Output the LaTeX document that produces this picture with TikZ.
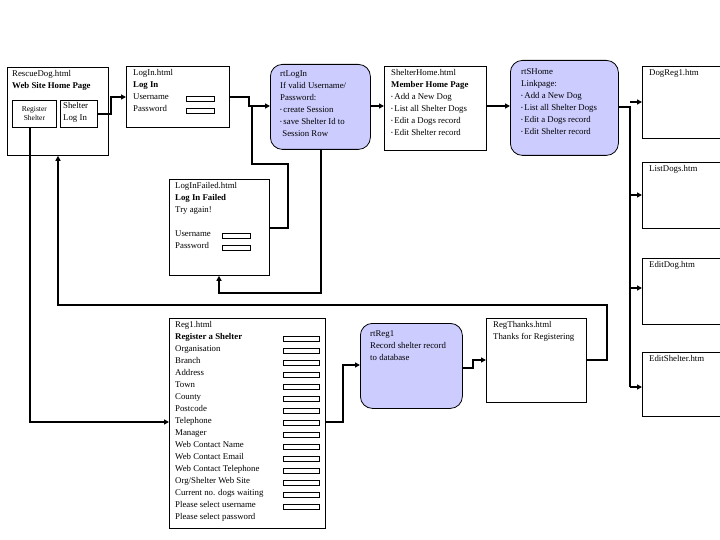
\documentclass[tikz,border=0pt]{standalone}
\usepackage{fontspec}
\setmainfont{Liberation Serif}
\usetikzlibrary{arrows.meta}
\definecolor{rtblue}{RGB}{204,204,255}
\newcommand\bul{{\fontsize{5}{5}\selectfont\raisebox{1pt}{\textbullet}}\,}
\begin{document}
\begin{tikzpicture}[x=1pt,y=-1pt,
  box/.style={draw,line width=0.8pt,anchor=north west,inner sep=0pt},
  rt/.style={box,fill=rtblue,rounded corners=12pt},
  txt/.style={anchor=north west,align=left,font=\fontsize{8.8}{12}\selectfont,inner sep=0pt},
  conn/.style={line width=1.8pt,-{Triangle[length=5pt,width=5pt]}},
  line/.style={line width=1.8pt}]
\useasboundingbox (0,0) rectangle (720,540);
\newcommand\fld[2]{\draw[line width=0.7pt] (#1,#2-2.5) rectangle ++(28,5);}
\newcommand\fldb[2]{\draw[line width=0.7pt] (#1,#2-2.5) rectangle ++(36,5);}
% RescueDog
\node[box,minimum width=101pt,minimum height=88pt] (rd) at (7,67) {};
\node[txt] (rdt) at (12,70) {RescueDog.html\\\textbf{Web Site Home Page}};
\node[box,minimum width=44pt,minimum height=27pt] (rs) at (12,100) {};
\node[txt,font=\fontsize{7.5}{12}\selectfont,align=center,anchor=center] (rst) at (rs.center) {Register\\[-3pt]Shelter};
\node[box,minimum width=37pt,minimum height=27pt] (sl) at (60,100) {};
\node[txt,align=left,anchor=north west] (slt) at (63,102) {Shelter\\Log In};
% LogIn
\node[box,minimum width=103pt,minimum height=61pt] (li) at (126,66) {};
\node[txt] (lit) at (133,69) {LogIn.html\\\textbf{Log In}\\Username\\Password};
\fld{186}{99}\fld{186}{111}
% rtLogIn
\node[rt,minimum width=100pt,minimum height=85pt] (rl) at (270,64) {};
\node[txt] (rlt) at (280,71) {rtLogIn\\If valid Username/\\Password:\\\bul create Session\\\bul save Shelter Id to\\\ Session Row};
% LogInFailed
\node[box,minimum width=100pt,minimum height=96pt] (lf) at (169,179) {};
\node[txt] (lft) at (175,182) {LogInFailed.html\\\textbf{Log In Failed}\\Try again!\\[12pt]Username\\Password};
\fld{222}{236}\fld{222}{248}
% ShelterHome
\node[box,minimum width=102pt,minimum height=84pt] (sh) at (384,66) {};
\node[txt] (sht) at (391,69) {ShelterHome.html\\\textbf{Member Home Page}\\\bul Add a New Dog\\\bul List all Shelter Dogs\\\bul Edit a Dogs record\\\bul Edit Shelter record};
% rtSHome
\node[rt,minimum width=108pt,minimum height=95pt] (rs2) at (510,60) {};
\node[txt] (rs2t) at (521,68) {rtSHome\\Linkpage:\\\bul Add a New Dog\\\bul List all Shelter Dogs\\\bul Edit a Dogs record\\\bul Edit Shelter record};
% right column
\node[box,minimum width=90pt,minimum height=72pt] (dr) at (642,66) {};
\node[txt] (drt) at (649,69) {DogReg1.htm};
\node[box,minimum width=90pt,minimum height=66pt] (ld) at (642,162) {};
\node[txt] (ldt) at (649,165) {ListDogs.htm};
\node[box,minimum width=90pt,minimum height=66pt] (ed) at (642,258) {};
\node[txt] (edt) at (649,261) {EditDog.htm};
\node[box,minimum width=90pt,minimum height=64pt] (es) at (642,352) {};
\node[txt] (est) at (649,355) {EditShelter.htm};
% Reg1
\node[box,minimum width=156pt,minimum height=210pt] (rg) at (169,318) {};
\node[txt] (rgt) at (175,321) {Reg1.html\\\textbf{Register a Shelter}\\Organisation\\Branch\\Address\\Town\\County\\Postcode\\Telephone\\Manager\\Web Contact Name\\Web Contact Email\\Web Contact Telephone\\Org/Shelter Web Site\\Current no. dogs waiting\\Please select username\\Please select password};
\foreach \i in {0,...,14} {\fldb{283}{339+12*\i}}
% rtReg1
\node[rt,minimum width=102pt,minimum height=85pt] (rr) at (360,323) {};
\node[txt] (rrt) at (370,330) {rtReg1\\Record shelter record\\to database};
% RegThanks
\node[box,minimum width=100pt,minimum height=84pt] (rt) at (486,318) {};
\node[txt] (rtt) at (493,321) {RegThanks.html\\Thanks for Registering};
% connectors
\draw[conn] (sl.east) -- (111,114) -- (111,97) -- (li.west |- 0,97);
\draw[conn] (li.east |- 0,97) -- (249,97) -- (249,106) -- (rl.west |- 0,106);
\draw[line] (252,106) -- (252,164) -- (288,164) -- (288,228) -- (lf.east |- 0,228);
\draw[conn] (rl.south -| 321,0) -- (321,293) -- (219,293) -- (lf.south -| 219,0);
\draw[conn] (rl.east |- 0,106) -- (sh.west |- 0,106);
\draw[conn] (sh.east |- 0,106) -- (rs2.west |- 0,106);
\draw[line] (rs2.east |- 0,107) -- (630,107) -- (630,387);
\draw[conn] (630,102) -- (dr.west |- 0,102);
\draw[conn] (630,195) -- (ld.west |- 0,195);
\draw[conn] (630,288) -- (ed.west |- 0,288);
\draw[conn] (630,387) -- (es.west |- 0,387);
\draw[conn] (rs.south -| 30,0) -- (30,422) -- (rg.west |- 0,422);
\draw[conn] (rt.east |- 0,360) -- (607,360) -- (607,305) -- (58,305) -- (rd.south -| 58,0);
\draw[conn] (rg.east |- 0,422) -- (343,422) -- (343,365) -- (rr.west |- 0,365);
\draw[conn] (rr.east |- 0,368) -- (473,368) -- (473,360) -- (rt.west |- 0,360);
\end{tikzpicture}
\end{document}
